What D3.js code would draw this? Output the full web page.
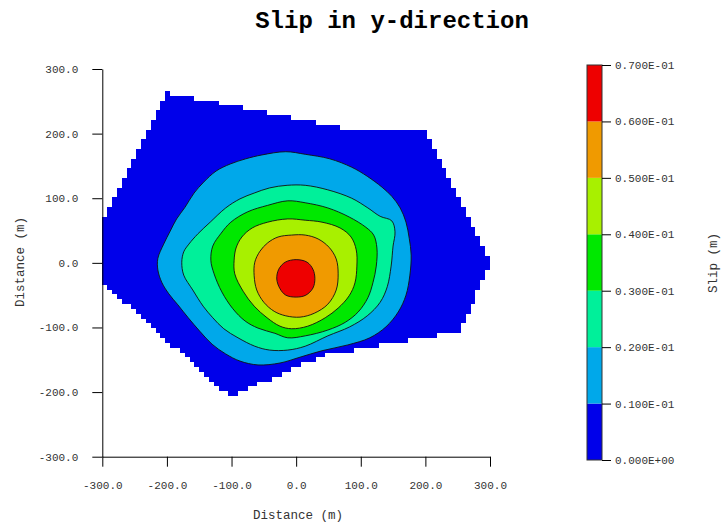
<!DOCTYPE html>
<html>
<head>
<meta charset="utf-8">
<script src="https://cdn.jsdelivr.net/npm/d3@7/dist/d3.min.js"></script>
<style>
    body { margin: 0; background: #fff; }
    text { font-family: "Liberation Mono", "DejaVu Sans Mono", monospace; }
</style>
</head>
<body>
<div id="chart"></div>
<script>

// ---- data (metres / metres of slip) ----
const chartTitle = "Slip in y-direction";
const xLabel = "Distance (m)";
const yLabel = "Distance (m)";
const barLabel = "Slip (m)";

const xTicks = [-300, -200, -100, 0, 100, 200, 300];
const yTicks = [-300, -200, -100, 0, 100, 200, 300];

// contour levels of the colour bar
const levels = [0, 0.01, 0.02, 0.03, 0.04, 0.05, 0.06, 0.07];
const levelColors = ["#0000ea", "#00a8ea", "#00f09a", "#00e800", "#a8f000", "#f09a00", "#ee0000"];

// outline of the slipping patch (it is drawn on a raster of cells)
const faultOutline = [
    [-300, 63.75], [-200, 263.7], [86, 206.25], [199, 206], [300, 3.75],
    [300, -3], [253, -106], [45, -142.5], [-103, -207], [-300, -30]
];
const cellSize = 7.5;

// closed contour lines, outer to inner
const contour010 = [
    [-16, 172], [14, 168], [52, 161], [86, 148], [110, 134], [133, 117], [148, 103], [161, 85],
    [170, 63], [175, 38], [178, 12], [176, -19], [170, -50], [158, -76], [139, -99], [114, -116],
    [80, -127], [40, -136], [6, -146], [-25, -155], [-59, -158], [-87, -152], [-109, -141],
    [-130, -126], [-149, -106], [-167, -85], [-183, -65], [-197, -48], [-208, -30], [-214, -11],
    [-214, 7], [-205, 29], [-195, 49], [-185, 68], [-172, 86], [-158, 108], [-143, 125],
    [-124, 142], [-102, 153], [-78, 161], [-53, 167]
];
const contour020 = [
    [-14, 120], [14, 120], [49, 113], [86, 100], [111, 85], [130, 72], [148, 65], [153, 48],
    [150, 26], [147, -5], [141, -37], [130, -61], [110, -82], [83, -99], [49, -113], [14, -129],
    [-13, -135], [-41, -135], [-64, -129], [-90, -116], [-112, -102], [-129, -85], [-144, -67],
    [-160, -42], [-174, -19], [-177, 1], [-174, 17], [-166, 29], [-152, 45], [-133, 63],
    [-109, 85], [-87, 99], [-65, 108], [-41, 116]
];
const contour030 = [
    [-13, 96], [14, 93], [49, 85], [82, 71], [108, 55], [120, 43], [125, 23], [124, -5],
    [119, -30], [111, -54], [96, -76], [76, -92], [49, -104], [14, -113], [-13, -116],
    [-33, -109], [-59, -101], [-79, -90], [-98, -71], [-115, -45], [-127, -17], [-132, 4],
    [-129, 26], [-116, 46], [-101, 63], [-75, 79], [-44, 89]
];
const contour040 = [
    [-13, 68], [14, 66], [40, 63], [68, 54], [85, 40], [93, 20], [94, -5], [91, -31],
    [82, -51], [65, -70], [45, -85], [18, -98], [-7, -102], [-25, -98], [-45, -85],
    [-65, -67], [-82, -44], [-95, -17], [-96, 4], [-93, 23], [-84, 40], [-68, 54], [-44, 63]
];
const contour050 = [
    [-7, 43], [14, 43], [34, 37], [51, 24], [62, 6], [65, -17], [62, -42], [49, -64],
    [28, -78], [6, -84], [-16, -82], [-34, -75], [-50, -61], [-61, -42], [-65, -20],
    [-64, 1], [-56, 18], [-44, 31], [-28, 40]
];
const contour060 = [
    [0, 5], [17, 1], [26, -10], [29, -24], [26, -39], [15, -50], [0, -53], [-16, -50],
    [-25, -40], [-30, -25], [-27, -10], [-17, 1]
];


class SlipContourVis {

    constructor(parentElement) {
        this.parentElement = parentElement;
        this.contours = [contour010, contour020, contour030, contour040, contour050, contour060];
        this.initVis();
    }

    initVis() {
        let vis = this;

        vis.svg = d3.select("#" + vis.parentElement).append("svg")
            .attr("width", 724)
            .attr("height", 531);

        // scales
        vis.x = d3.scaleLinear().domain([-300, 300]).range([102.3, 490]);
        vis.y = d3.scaleLinear().domain([-300, 300]).range([456.7, 69]);
        vis.c = d3.scaleLinear().domain([levels[0], levels[levels.length - 1]]).range([460, 65]);

        // title
        vis.svg.append("text")
            .attr("x", 392)
            .attr("y", 28)
            .attr("text-anchor", "middle")
            .attr("font-size", 24)
            .attr("font-weight", "bold")
            .attr("fill", "#000")
            .text(chartTitle);

        // slipping patch, as raster cells -> one path with a rectangle per row run
        let cellPath = "";
        for (let j = -40; j <= 40; j++) {
            let cy = j * cellSize;
            let run = null;
            for (let i = -40; i <= 40; i++) {
                let inside = i < 40 && d3.polygonContains(faultOutline, [i * cellSize + cellSize / 2, cy]);
                if (inside && run === null) run = i;
                if (!inside && run !== null) {
                    let x0 = vis.x(run * cellSize), x1 = vis.x(i * cellSize);
                    let y0 = vis.y(cy + cellSize / 2), y1 = vis.y(cy - cellSize / 2);
                    cellPath += `M${x0},${y0}H${x1}V${y1}H${x0}Z`;
                    run = null;
                }
            }
        }
        vis.svg.append("path")
            .attr("d", cellPath)
            .attr("fill", levelColors[0])
            .attr("shape-rendering", "crispEdges");

        // filled contours
        let line = d3.line()
            .x(d => vis.x(d[0]))
            .y(d => vis.y(d[1]))
            .curve(d3.curveCatmullRomClosed.alpha(0.5));

        vis.svg.selectAll(".band")
            .data(vis.contours)
            .enter()
            .append("path")
            .attr("class", "band")
            .attr("d", d => line(d))
            .attr("fill", (d, i) => levelColors[i + 1])
            .attr("stroke", "#111")
            .attr("stroke-width", 0.9);

        // axes
        let fmt = d => d.toFixed(1);

        vis.xAxisGroup = vis.svg.append("g")
            .attr("transform", `translate(0,${vis.y(-300)})`)
            .call(d3.axisBottom(vis.x).tickValues(xTicks).tickFormat(fmt).tickSize(10).tickSizeOuter(0).tickPadding(15));

        vis.yAxisGroup = vis.svg.append("g")
            .attr("transform", `translate(${vis.x(-300)},0)`)
            .call(d3.axisLeft(vis.y).tickValues(yTicks).tickFormat(fmt).tickSize(10).tickSizeOuter(0).tickPadding(14));

        [vis.xAxisGroup, vis.yAxisGroup].forEach(g => {
            g.attr("font-family", null).attr("font-size", 11);
            g.selectAll("text").attr("fill", "#333");
            g.selectAll("line, path").attr("stroke", "#000");
        });

        vis.svg.append("text")
            .attr("x", 298)
            .attr("y", 519)
            .attr("text-anchor", "middle")
            .attr("font-size", 12.5)
            .attr("fill", "#333")
            .text(xLabel);

        vis.svg.append("text")
            .attr("transform", "translate(24,262) rotate(-90)")
            .attr("text-anchor", "middle")
            .attr("font-size", 12.5)
            .attr("fill", "#333")
            .text(yLabel);

        // colour bar
        let barX = 587, barW = 15;
        vis.svg.selectAll(".cbar")
            .data(levelColors)
            .enter()
            .append("rect")
            .attr("class", "cbar")
            .attr("x", barX)
            .attr("width", barW)
            .attr("y", (d, i) => vis.c(levels[i + 1]))
            .attr("height", (d, i) => vis.c(levels[i]) - vis.c(levels[i + 1]))
            .attr("fill", d => d);

        vis.svg.append("rect")
            .attr("x", barX)
            .attr("y", vis.c(levels[levels.length - 1]))
            .attr("width", barW)
            .attr("height", vis.c(levels[0]) - vis.c(levels[levels.length - 1]))
            .attr("fill", "none")
            .attr("stroke", "#333")
            .attr("stroke-width", 1);

        let expFmt = v => {
            if (v === 0) return "0.000E+00";
            let e = Math.floor(Math.log10(v)) + 1;
            let m = v / Math.pow(10, e);
            return m.toFixed(3) + "E" + (e < 0 ? "-" : "+") + String(Math.abs(e)).padStart(2, "0");
        };

        vis.svg.append("g")
            .attr("transform", `translate(${barX + barW},0)`)
            .call(d3.axisRight(vis.c).tickValues(levels).tickFormat(expFmt).tickSize(9).tickSizeOuter(0).tickPadding(4))
            .call(g => g.select(".domain").remove())
            .attr("font-family", null)
            .attr("font-size", 11)
            .call(g => g.selectAll("text").attr("fill", "#333"))
            .call(g => g.selectAll("line").attr("stroke", "#000"));

        vis.svg.append("text")
            .attr("transform", "translate(717,263) rotate(-90)")
            .attr("text-anchor", "middle")
            .attr("font-size", 12.5)
            .attr("fill", "#333")
            .text(barLabel);
    }
}

new SlipContourVis("chart");
</script>
</body>
</html>
